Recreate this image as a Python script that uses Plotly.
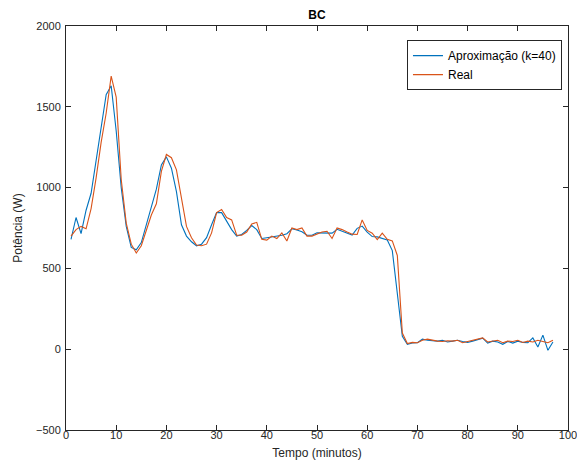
import plotly.graph_objects as go

tempo = list(range(1, 98))

aproximacao = [
    680, 815, 715, 860, 965, 1170, 1360, 1575, 1630, 1350,
    1000, 760, 630, 615, 660, 770, 880, 990, 1140, 1190,
    1120, 975, 770, 700, 665, 640, 650, 690, 770, 845,
    845, 790, 740, 700, 710, 735, 765, 740, 685, 690,
    695, 700, 705, 715, 745, 738, 727, 705, 705, 720,
    720, 720, 718, 742, 730, 715, 706, 748, 762, 725,
    697, 695, 686, 676, 610, 330, 80, 30, 38, 40,
    62, 55, 52, 50, 55, 45, 50, 55, 48, 42,
    50, 58, 68, 38, 50, 45, 30, 48, 38, 50,
    42, 40, 70, 14, 87, -7, 45,
]

real = [
    700, 740, 760, 745, 870, 1060, 1280, 1460, 1690, 1560,
    1050, 780, 650, 595, 640, 740, 830, 900, 1100, 1205,
    1185, 1110, 940, 760, 690, 645, 640, 650, 720, 845,
    865, 815, 800, 705, 705, 725, 775, 785, 680, 675,
    700, 685, 720, 670, 750, 740, 750, 700, 700, 715,
    725, 730, 685, 750, 740, 725, 712, 710, 800, 735,
    718, 678, 718, 680, 670, 580, 100, 35, 42, 40,
    55, 62, 55, 50, 48, 52, 50, 55, 40, 48,
    55, 60, 70, 45, 48, 55, 40, 50, 48, 55,
    42, 50, 45, 55, 48, 40, 55,
]

x_ticks = list(range(0, 101, 10))
y_ticks = list(range(-500, 2001, 500))

FONT = "Liberation Sans, Arial, sans-serif"
AX = "#262626"

fig = go.Figure()
fig.add_trace(go.Scatter(x=tempo, y=aproximacao, mode="lines",
                         name="Aproximação (k=40)",
                         line=dict(color="#0072BD", width=1.1)))
fig.add_trace(go.Scatter(x=tempo, y=real, mode="lines", name="Real",
                         line=dict(color="#D95319", width=1.1)))

axis_common = dict(
    showline=True, linecolor=AX, linewidth=1, mirror="ticks",
    ticks="inside", ticklen=5, tickcolor=AX, tickwidth=1,
    showgrid=False, zeroline=False, ticklabeloverflow="allow",
    tickfont=dict(family=FONT, size=11, color=AX),
)

# page body has an 8px margin, so the figure is drawn 8px smaller
W, H = 577, 458
fig.update_layout(
    width=W, height=H,
    margin=dict(l=58, r=8, t=18, b=35),
    paper_bgcolor="white", plot_bgcolor="white",
    font=dict(family=FONT, color=AX),
    title=dict(text="<b>BC</b>", x=0.5, xref="paper", xanchor="center",
               yref="container", y=1 - 7 / H, yanchor="middle",
               font=dict(family=FONT, size=12, color="black")),
    xaxis=dict(range=[0, 100], tickvals=x_ticks, ticklabelstandoff=-5,
               title=dict(text="Tempo (minutos)", standoff=8,
                          font=dict(family=FONT, size=12, color=AX)),
               **axis_common),
    yaxis=dict(range=[-500, 2000], tickvals=y_ticks, ticklabelstandoff=2,
               title=dict(text="Potência (W)", standoff=10,
                          font=dict(family=FONT, size=12, color=AX)),
               **axis_common),
    legend=dict(x=0.988, xanchor="right", y=0.965, yanchor="top",
                bgcolor="white", bordercolor=AX, borderwidth=1,
                font=dict(family=FONT, size=12, color="black"),
                tracegroupgap=0, itemwidth=30),
    showlegend=True,
)

fig.write_html("out.html")
